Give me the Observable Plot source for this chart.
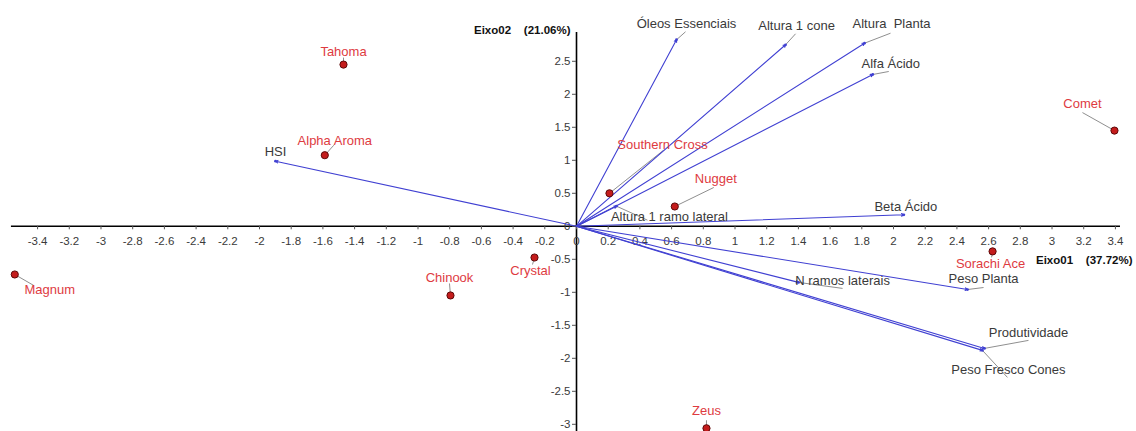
<!DOCTYPE html>
<html>
<head>
<meta charset="utf-8">
<script src="https://cdn.jsdelivr.net/npm/d3@7"></script>
<script src="https://cdn.jsdelivr.net/npm/@observablehq/plot@0.6"></script>
<style>
  html, body { margin: 0; padding: 0; background: #fff; }
  #chart svg text { white-space: pre; }
</style>
</head>
<body>
<div id="chart"></div>
<script>
// Hop cultivars (scores on the first two axes)
const sampleNames = ["Tahoma", "Alpha Aroma", "Magnum", "Chinook", "Crystal", "Southern Cross", "Nugget", "Comet", "Sorachi Ace", "Zeus"];
const sampleAxis1 = [-1.470, -1.588, -3.544, -0.795, -0.265, 0.208, 0.620, 3.394, 2.625, 0.820];
const sampleAxis2 = [2.45, 1.077, -0.73, -1.048, -0.473, 0.50, 0.30, 1.45, -0.38, -3.06];

// Measured traits (loading vectors)
const variableNames = ["Óleos Essenciais", "Altura 1 cone", "Altura  Planta", "Alfa Ácido", "Beta Ácido", "HSI", "Altura 1 ramo lateral", "N ramos laterais", "Peso Planta", "Produtividade", "Peso Fresco Cones"];
const variableAxis1 = [0.631, 1.319, 1.817, 1.869, 2.065, -1.899, 0.252, 1.401, 2.467, 2.574, 2.561];
const variableAxis2 = [2.826, 2.75, 2.774, 2.30, 0.174, 0.986, 0.305, -0.85, -0.958, -1.85, -1.88];

// Tick values
const xTicks = [-3.4, -3.2, -3, -2.8, -2.6, -2.4, -2.2, -2, -1.8, -1.6, -1.4, -1.2, -1, -0.8, -0.6, -0.4, -0.2, 0,
                0.2, 0.4, 0.6, 0.8, 1, 1.2, 1.4, 1.6, 1.8, 2, 2.2, 2.4, 2.6, 2.8, 3, 3.2, 3.4];
const yTicks = [-3, -2.5, -2, -1.5, -1, -0.5, 0, 0.5, 1, 1.5, 2, 2.5];

const axis1Title = "Eixo01\u00a0\u00a0\u00a0\u00a0(37.72%)";
const axis2Title = "Eixo02\u00a0\u00a0\u00a0\u00a0(21.06%)";

// Label placement, in pixels relative to the point: [label dx, label dy, leader end dx, leader end dy]
const sampleLabelLayout = [
  [0, -13, 0, -7],
  [10, -14, 9, -10],
  [35, 15, 19, 11],
  [-1, -18, -1, -12],
  [-4, 13, -2, 7],
  [53, -48, 54, -43],
  [41, -28, 39, -19],
  [-32, -27, -32, -18],
  [-2, 12, -1, 6],
  [0, -17, 0, -8]
];
const variableLabelLayout = [
  [10, -16, 9, -8],
  [11, -19, 10, -11],
  [27, -19, 26, -10],
  [18, -11, 16, -3],
  [2, -8, 0, 0],
  [0, -9, 0, 0],
  [53, 11, 31, 14],
  [44, -2, 44, 6],
  [16, -11, 16, -2],
  [44, -16, 44, -8],
  [26, 19, 25, 27]
];

const W = 1136, H = 431;
const xDomain = [-3.634, 3.533];
const yDomain = [-3.109, 3.421];
const kx = W / (xDomain[1] - xDomain[0]);   // pixels per unit, horizontal
const ky = H / (yDomain[1] - yDomain[0]);   // pixels per unit, vertical

const samples = sampleNames.map((name, i) => ({
  name, x: sampleAxis1[i], y: sampleAxis2[i],
  lx: sampleAxis1[i] + sampleLabelLayout[i][0] / kx,
  ly: sampleAxis2[i] - sampleLabelLayout[i][1] / ky,
  ex: sampleAxis1[i] + sampleLabelLayout[i][2] / kx,
  ey: sampleAxis2[i] - sampleLabelLayout[i][3] / ky
}));
const variables = variableNames.map((name, i) => ({
  name, x: variableAxis1[i], y: variableAxis2[i],
  lx: variableAxis1[i] + variableLabelLayout[i][0] / kx,
  ly: variableAxis2[i] - variableLabelLayout[i][1] / ky,
  ex: variableAxis1[i] + variableLabelLayout[i][2] / kx,
  ey: variableAxis2[i] - variableLabelLayout[i][3] / ky
}));

const fmt = d => String(+d.toFixed(1));
const font = "'Liberation Sans', Arial, sans-serif";
const zero = () => 0;
const vectorColor = "#4040d2";

const chart = Plot.plot({
  width: W,
  height: H,
  margin: 0,
  x: {domain: xDomain, axis: null},
  y: {domain: yDomain, axis: null},
  style: {background: "#fff", fontFamily: font},
  marks: [
    // leader lines
    Plot.link(samples, {x1: "x", y1: "y", x2: "ex", y2: "ey", stroke: "#8f8f8f", strokeWidth: 1}),
    Plot.link(variables, {x1: "x", y1: "y", x2: "ex", y2: "ey", stroke: "#8f8f8f", strokeWidth: 1}),
    // axes through the origin
    Plot.ruleY([0], {x1: -3.565, x2: 3.432, stroke: "#000", strokeWidth: 1.6}),
    Plot.ruleX([0], {y1: -3.2, y2: 2.936, stroke: "#000", strokeWidth: 1.6}),
    Plot.ruleX(xTicks, {x: d => d, y1: zero, y2: () => -3.5 / ky, stroke: "#555", strokeWidth: 1}),
    Plot.ruleY(yTicks, {y: d => d, x1: () => -4 / kx, x2: zero, stroke: "#555", strokeWidth: 1}),
    Plot.text(xTicks, {x: d => d, y: zero, dy: 15, text: fmt, fontSize: 11.5, fill: "#3a3a3a"}),
    Plot.text(yTicks, {x: zero, y: d => d, dx: -6, textAnchor: "end", text: fmt, fontSize: 11.5, fill: "#3a3a3a"}),
    // loading vectors
    Plot.arrow(variables, {x1: zero, y1: zero, x2: "x", y2: "y", stroke: vectorColor, strokeWidth: 1.1, headLength: 3.5, headAngle: 60}),
    Plot.dot(variables, {x: "x", y: "y", r: 1.4, fill: vectorColor}),
    Plot.text(variables, {x: "lx", y: "ly", text: "name", fontSize: 13, fill: "#3a3a3a"}),
    // cultivars
    Plot.dot(samples, {x: "x", y: "y", r: 3.6, fill: "#c41c1c", stroke: "#5e0a0a", strokeWidth: 1}),
    Plot.text(samples, {x: "lx", y: "ly", text: "name", fontSize: 13, fill: "#de3b3f"}),
    // axis titles
    Plot.text([axis2Title], {x: zero, frameAnchor: "top", dx: -6, dy: 25, textAnchor: "end", text: d => d, fontSize: 11.5, fontWeight: "bold", fill: "#111"}),
    Plot.text([axis1Title], {frameAnchor: "right", y: () => -0.52, dx: -4, textAnchor: "end", text: d => d, fontSize: 11.5, fontWeight: "bold", fill: "#111"})
  ]
});

document.getElementById("chart").append(chart);
</script>
</body>
</html>
